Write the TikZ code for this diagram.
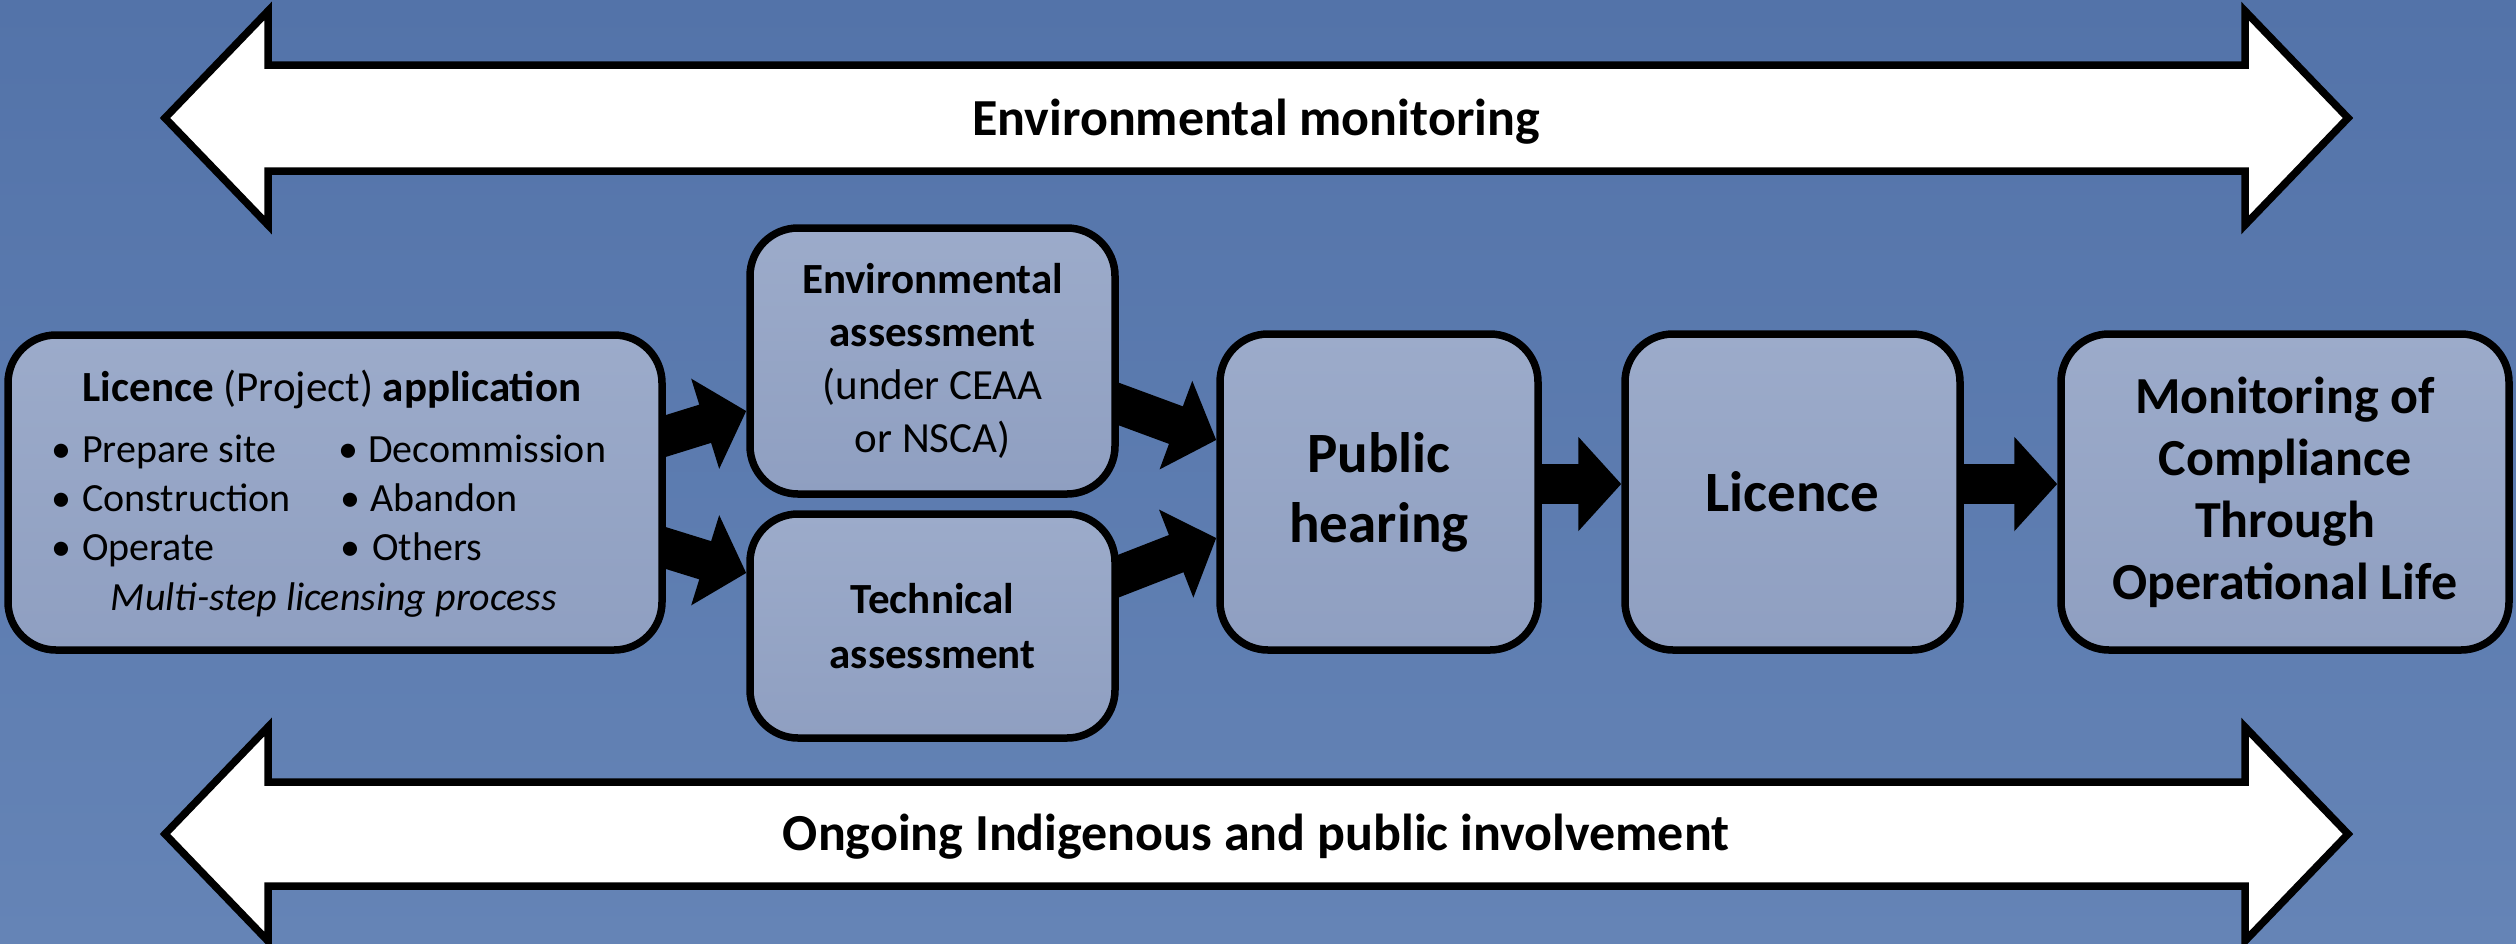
\documentclass[tikz,border=0pt]{standalone}
\usepackage{fontspec}
\setmainfont{Carlito}
\usetikzlibrary{calc,arrows.meta}
\definecolor{bgtop}{HTML}{5373A9}
\definecolor{bgbot}{HTML}{6584B6}
\definecolor{boxtop}{HTML}{9CABCA}
\definecolor{boxbot}{HTML}{8F9FC1}
\pgfdeclarelayer{back}
\pgfdeclarelayer{arr}
\pgfsetlayers{back,arr,main}
\begin{document}
\begin{tikzpicture}[x=1pt,y=-1pt,
  stage/.style={draw=black, line width=7.5pt, rounded corners=48pt, top color=boxtop, bottom color=boxbot, inner sep=0pt, align=center, text=black},
  blk/.style={line width=40pt, black, -{Triangle[width=92pt,length=43pt]}},
  bigarrow/.style={draw=black, line width=7.5pt, fill=white, line join=miter},
  lbl/.style={font=\fontsize{52}{63}\selectfont\bfseries, inner sep=0pt, anchor=base},
  item/.style={font=\fontsize{40}{49}\selectfont, anchor=base west, inner sep=0pt},
  bul/.style={font=\fontsize{40}{49}\selectfont, anchor=base, inner sep=0pt},
]
\useasboundingbox (0,0) rectangle (2516,943);
\begin{pgfonlayer}{back}
\shade[top color=bgtop,bottom color=bgbot] (0,0) rectangle (2516,943);
\end{pgfonlayer}

% big white double arrows
\draw[bigarrow] (165,118) -- (268,11) -- (268,65) -- (2245,65) -- (2245,11) -- (2348,118) -- (2245,225) -- (2245,171) -- (268,171) -- (268,225) -- cycle;
\node[lbl] (envmon) at (1256,135) {Environmental monitoring};
\draw[bigarrow] (165,834) -- (268,727) -- (268,782) -- (2245,782) -- (2245,727) -- (2348,834) -- (2245,941) -- (2245,886) -- (268,886) -- (268,941) -- cycle;
\node[lbl] (ongoing) at (1256,850) {Ongoing Indigenous and public involvement};

% boxes
\node[stage, minimum width=654pt, minimum height=315pt] (app) at (335,492.5) {};
\node[stage, minimum width=365pt, minimum height=266pt, font=\fontsize{43}{53}\selectfont] (env) at (932.5,361)
  {\textbf{Environmental}\\\textbf{assessment}\\(under CEAA\\or NSCA)};
\node[stage, minimum width=365pt, minimum height=224pt, font=\fontsize{43}{55}\selectfont\bfseries] (tech) at (932.5,626)
  {Technical\\assessment};
\node[stage, minimum width=318pt, minimum height=316pt, font=\fontsize{57}{70}\selectfont\bfseries] (pub) at (1379,492)
  {Public\\hearing};
\node[stage, minimum width=335pt, minimum height=316pt, font=\fontsize{57}{70}\selectfont\bfseries] (lic) at (1792.5,492)
  {Licence};
\node[stage, minimum width=448pt, minimum height=316pt, font=\fontsize{52}{62}\selectfont\bfseries] (mon) at (2285,492)
  {Monitoring of\\Compliance\\Through\\Operational Life};

% application box contents
\node[font=\fontsize{43}{52}\selectfont, anchor=base, inner sep=0pt] (apptitle) at (332,401)
  {\textbf{Licence} (Project) \textbf{application}};
\node[bul] (b1) at (61,462) {•};  \node[item] (t1) at (82,462) {Prepare site};
\node[bul] (b2) at (61,511) {•};  \node[item] (t2) at (82,511) {Construction};
\node[bul] (b3) at (61,560) {•};  \node[item] (t3) at (82,560) {Operate};
\node[bul] (b4) at (348,462) {•}; \node[item] (t4) at (368,462) {Decommission};
\node[bul] (b5) at (350,511) {•}; \node[item] (t5) at (370,511) {Abandon};
\node[bul] (b6) at (350,560) {•}; \node[item] (t6) at (372,560) {Others};
\node[font=\fontsize{40}{49}\selectfont\itshape, anchor=base, inner sep=0pt] (multi) at (334,610)
  {Multi-step licensing process};

% black flow arrows
\coordinate (a1s) at ($(app.east)+(0,-56.5)$);
\coordinate (a1e) at ($(env.west)+(0,50)$);
\coordinate (a2s) at ($(app.east)+(0,55.5)$);
\coordinate (a2e) at ($(tech.west)+(0,-53)$);
\coordinate (a3s) at ($(env.east)+(0,43)$);
\coordinate (a3e) at ($(pub.west)+(0,-52)$);
\coordinate (a4s) at ($(tech.east)+(0,-50)$);
\coordinate (a4e) at ($(pub.west)+(0,46)$);
\coordinate (a5s) at ($(pub.east)+(0,-8)$);
\coordinate (a5e) at ($(lic.west)+(0,-8)$);
\coordinate (a6s) at ($(lic.east)+(0,-8)$);
\coordinate (a6e) at ($(mon.west)+(0,-8)$);
\begin{pgfonlayer}{arr}
\draw[blk] ($(a1s)!-25pt!(a1e)$) -- (a1e);
\draw[blk] ($(a2s)!-25pt!(a2e)$) -- (a2e);
\draw[blk] ($(a3s)!-25pt!(a3e)$) -- (a3e);
\draw[blk] ($(a4s)!-25pt!(a4e)$) -- (a4e);
\draw[blk] ($(a5s)!-25pt!(a5e)$) -- (a5e);
\draw[blk] ($(a6s)!-25pt!(a6e)$) -- (a6e);
\end{pgfonlayer}
\end{tikzpicture}
\end{document}
